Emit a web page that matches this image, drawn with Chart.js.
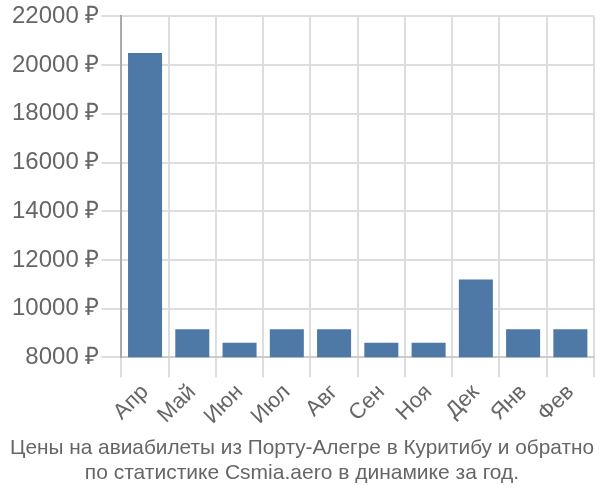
<!DOCTYPE html>
<html>
<head>
<meta charset="utf-8">
<script src="https://cdn.jsdelivr.net/npm/chart.js@4"></script>
<style>
  html, body { margin: 0; padding: 0; background: #fff; }
  #wrap { width: 600px; height: 500px; }
</style>
</head>
<body>
<div id="wrap"><canvas id="priceChart"></canvas></div>
<script>
const months = ["Апр", "Май", "Июн", "Июл", "Авг", "Сен", "Ноя", "Дек", "Янв", "Фев"];
const prices = [20500, 9150, 8600, 9150, 9150, 8600, 8600, 11200, 9150, 9150];
const titleLines = [
    "Цены на авиабилеты из Порту-Алегре в Куритибу и обратно",
    "по статистике Csmia.aero в динамике за год."
];

const ctx = document.getElementById("priceChart").getContext("2d");

new Chart(ctx, {
    type: "bar",
    data: {
        labels: months,
        datasets: [{
            data: prices,
            backgroundColor: "#4e79a7",
            borderWidth: 0,
            barPercentage: 0.72,
            categoryPercentage: 1
        }]
    },
    options: {
        responsive: true,
        maintainAspectRatio: false,
        animation: false,
        layout: { padding: { top: 6, right: 6, left: 10, bottom: 14 } },
        plugins: {
            legend: { display: false },
            tooltip: { enabled: false },
            title: {
                display: true,
                text: titleLines,
                position: "bottom",
                color: "#666",
                font: { family: "Liberation Sans", size: 21, weight: "normal" },
                padding: { top: 4, bottom: 0 },
                lineHeight: 1.2
            }
        },
        scales: {
            x: {
                offset: true,
                grid: {
                    offset: true,
                    color: "#ddd",
                    lineWidth: 2,
                    tickLength: 20
                },
                border: { color: "#ccc", width: 2 },
                ticks: {
                    color: "#666",
                    font: { family: "Liberation Sans", size: 22 },
                    maxRotation: 45,
                    minRotation: 45,
                    padding: 2
                }
            },
            y: {
                min: 8000,
                max: 22000,
                grid: {
                    color: "#ddd",
                    lineWidth: 2,
                    tickLength: 20
                },
                border: { color: "#aaa", width: 2 },
                ticks: {
                    stepSize: 2000,
                    color: "#666",
                    font: { family: "Liberation Sans", size: 24 },
                    padding: 2,
                    callback: (v) => v + " ₽"
                }
            }
        }
    }
});
</script>
</body>
</html>
